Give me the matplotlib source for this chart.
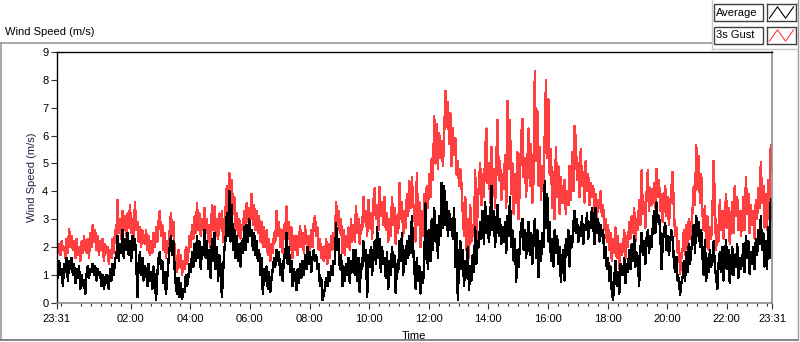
import numpy as np
import pandas as pd
import matplotlib
matplotlib.use("Agg")
import matplotlib.pyplot as plt
from matplotlib.patches import Rectangle
from matplotlib.lines import Line2D

plt.rcParams['font.family'] = ['Liberation Sans', 'DejaVu Sans']

# ---------------- data (m/s), one row per hour, 2.5-minute samples from 23:31 ----------------
gust_rows = [
    [2.3,1.8,2.1,1.7,2.2,1.9,2.0,1.6,2.3,1.8,2.65,2.0,2.4,1.9,2.2,1.6,2.3,1.7,2.0,1.5,2.2,1.8,2.4,1.9],
    [1.8,2.3,1.6,2.5,2.0,2.8,2.2,2.6,1.9,2.4,1.7,2.2,1.9,2.3,1.5,2.1,1.8,2.0,1.4,1.9,1.6,2.3,1.8,2.6],
    [2.4,3.7,2.5,3.0,2.3,3.3,2.6,3.1,2.4,3.2,2.7,3.5,2.5,3.0,2.3,3.6,2.6,2.9,2.2,2.7,2.0,2.6,2.3,2.1],
    [2.6,1.9,2.4,1.7,2.2,1.8,2.5,2.0,2.7,2.2,2.9,3.3,2.4,2.8,1.9,2.5,1.6,2.2,1.8,2.6,3.2,2.4,2.9,1.8],
    [1.6,1.1,1.9,1.3,1.7,1.0,1.5,1.2,2.0,1.4,1.8,2.4,2.0,2.8,2.3,3.1,2.5,3.56,2.6,3.2,2.4,3.0,2.6,3.4],
    [2.5,3.0,2.2,2.8,2.0,3.5,2.6,3.45,2.4,3.0,2.3,3.2,2.7,3.3,2.2,2.9,3.4,4.2,3.3,4.64,3.6,4.4,3.2,3.8],
    [2.6,3.2,2.4,3.0,2.3,2.8,2.6,3.3,2.7,3.56,2.9,3.4,3.0,3.9,2.8,3.5,2.6,3.3,2.5,3.1,2.2,2.9,2.0,2.7],
    [2.0,2.6,1.7,2.3,1.5,2.1,1.8,2.5,2.2,3.3,2.4,2.9,2.0,2.6,1.8,2.8,2.5,3.45,2.3,2.9,1.9,2.7,1.6,2.4],
    [1.9,2.4,1.7,2.2,2.75,2.0,2.5,1.8,2.75,2.1,2.4,1.7,2.2,2.6,2.0,2.9,3.1,2.4,2.7,1.9,2.3,1.6,2.0,1.5],
    [1.7,2.3,1.4,2.1,1.6,2.4,1.9,2.5,2.2,3.6,2.8,3.3,2.5,3.0,1.8,2.6,1.7,2.4,2.0,2.7,1.9,3.0,2.2,2.8],
    [2.2,3.45,2.5,3.0,2.1,2.8,2.6,3.8,2.9,3.3,2.4,3.7,2.7,3.2,2.3,3.6,4.1,3.0,3.5,2.6,4.16,3.1,3.6,2.8],
    [3.8,2.6,3.2,2.2,3.0,2.4,3.8,2.8,3.4,2.1,3.1,2.5,4.3,3.0,3.6,2.4,3.3,2.7,3.9,3.1,4.35,3.4,4.5,3.6],
    [3.2,2.2,4.64,2.8,3.6,2.0,3.3,2.4,3.9,3.0,4.2,3.4,4.6,3.8,5.2,4.4,6.7,5.0,6.4,4.8,6.1,5.2,5.8,4.9],
    [6.0,7.6,6.3,7.2,5.7,6.8,4.9,6.25,5.3,5.9,4.6,5.1,4.2,4.8,4.2,3.2,2.4,3.8,1.9,3.0,1.6,3.5,2.2,2.8],
    [2.4,4.75,1.8,3.6,4.2,5.0,3.5,4.6,3.8,5.4,6.25,4.3,5.0,3.6,5.6,4.1,4.8,3.4,5.2,6.55,4.4,5.1,3.7,4.6],
    [4.1,5.3,3.4,7.24,4.8,6.55,3.9,5.0,3.2,4.6,3.6,5.4,3.0,4.4,5.9,6.6,4.5,5.2,3.8,5.0,6.25,4.2,5.7,3.6],
    [4.4,8.3,5.1,6.9,4.2,5.6,3.7,4.9,4.1,6.0,8.0,5.2,7.3,4.6,5.5,3.4,4.7,3.0,5.6,3.8,4.9,3.2,4.5,3.6],
    [3.6,4.4,3.2,4.0,3.5,4.9,3.7,5.4,4.0,6.35,5.85,4.4,5.0,3.8,5.5,4.2,4.7,3.6,5.1,4.0,4.6,3.5,4.3,3.8],
    [4.2,3.2,3.9,3.0,3.7,3.4,4.0,3.1,3.5,2.6,3.0,2.2,2.8,1.9,2.5,1.5,2.3,1.8,2.7,1.6,2.4,1.2,2.1,1.7],
    [1.9,2.6,1.6,2.4,2.0,2.9,2.3,3.1,2.5,3.4,2.2,3.0,2.6,3.7,2.8,4.75,3.2,3.6,2.7,3.9,4.75,3.3,4.1,3.5],
    [3.6,4.3,3.4,4.8,3.8,4.4,3.3,3.9,2.9,3.6,4.2,3.1,3.8,2.8,3.5,4.1,4.7,3.3,2.4,2.7,1.8,2.2,1.05,1.6],
    [1.9,2.6,1.7,2.8,2.0,3.0,2.3,2.7,3.3,4.2,3.5,5.65,4.1,5.25,3.6,4.6,3.2,2.6,3.45,2.0,3.1,1.9,2.7,2.3],
    [3.2,5.1,3.6,1.9,2.8,2.2,3.7,2.6,3.3,2.3,3.0,3.9,2.7,3.4,2.1,2.9,3.6,2.5,4.2,3.1,3.8,2.6,3.3,2.4],
    [3.0,3.8,2.6,4.5,3.2,3.9,2.5,3.5,2.8,3.3,2.3,3.7,3.0,4.1,3.4,5.06,3.6,4.2,2.7,3.9,2.6,4.4,3.1,5.65],
]
avg_rows = [
    [1.3,0.9,1.5,1.0,1.2,0.6,1.4,1.1,1.6,0.8,1.5,1.2,1.6,1.0,1.4,0.7,1.2,0.9,1.3,0.5,1.0,0.6,0.8,0.3],
    [1.0,1.3,0.9,1.2,1.1,1.4,1.0,1.3,0.8,1.2,1.0,1.1,0.6,1.0,0.5,0.9,1.0,0.7,0.5,1.2,0.8,1.4,1.0,1.6],
    [1.6,2.4,1.5,2.1,1.8,2.6,1.6,2.3,1.9,2.5,1.7,2.2,1.5,2.4,1.9,2.3,1.6,0.2,1.4,1.8,1.0,1.6,0.8,1.3],
    [1.2,0.6,1.4,0.8,1.1,0.5,1.3,0.9,0.1,1.0,1.6,1.8,1.2,1.5,0.7,1.1,0.3,0.9,1.5,2.0,2.4,1.7,2.2,1.2],
    [0.6,0.3,0.9,0.2,0.7,0.15,0.5,0.4,1.0,0.6,0.9,1.4,1.1,1.8,1.3,2.1,1.5,2.4,1.6,2.2,1.2,2.0,1.7,2.6],
    [1.6,2.2,1.2,1.9,0.9,2.3,1.5,2.5,1.2,2.0,0.8,1.7,1.3,0.2,1.1,1.9,2.3,3.2,2.4,4.0,2.2,3.5,1.9,2.6],
    [1.6,2.4,1.5,2.1,1.3,2.2,1.8,2.7,1.9,2.8,2.2,3.0,2.4,2.6,1.9,2.5,1.7,2.2,1.5,1.9,1.0,1.6,0.3,1.2],
    [0.8,1.3,0.5,1.1,0.4,0.9,1.2,1.6,1.3,1.9,1.5,1.8,1.0,1.4,0.8,1.7,1.6,2.5,1.4,2.0,1.1,1.5,0.6,1.2],
    [1.0,0.45,1.2,0.7,1.4,0.9,1.5,1.0,1.7,1.2,2.0,1.4,1.8,1.1,1.6,1.9,1.5,1.7,1.2,1.4,0.6,0.9,0.1,0.3],
    [0.5,0.9,0.6,1.1,0.8,1.3,1.0,1.5,1.4,2.85,1.9,2.3,1.2,1.7,0.6,1.3,0.8,1.4,1.0,1.6,0.7,1.5,1.1,1.9],
    [1.0,1.9,0.8,1.6,0.4,1.4,1.2,2.2,1.5,1.9,0.2,1.7,1.3,2.0,1.0,1.8,2.2,1.4,2.7,1.6,2.3,1.1,2.0,1.4],
    [1.6,0.9,1.8,0.5,1.5,1.0,2.0,1.3,1.7,0.35,1.4,1.1,2.2,1.5,2.5,1.0,1.9,1.4,2.2,1.6,2.4,1.8,3.1,2.0],
    [1.2,0.5,1.6,0.8,1.3,0.33,1.1,0.7,1.5,3.56,2.0,1.2,2.6,1.5,3.0,1.9,3.4,2.2,2.8,1.6,3.1,2.4,4.3,2.7],
    [4.2,2.8,3.6,2.4,3.3,2.6,3.0,2.3,3.4,1.3,2.5,0.1,1.6,2.2,1.2,1.9,0.6,1.5,0.9,2.0,0.45,1.3,0.8,1.7],
    [1.1,2.7,1.4,2.2,2.0,2.9,2.3,3.3,2.1,3.6,2.5,3.1,2.2,2.8,4.2,2.6,3.3,2.0,2.9,3.5,2.4,3.0,2.1,2.7],
    [2.2,2.9,1.8,3.1,2.4,3.8,2.0,2.6,1.5,2.3,0.75,1.9,1.3,2.1,2.8,3.0,1.9,2.6,1.6,2.4,2.9,1.7,2.5,1.4],
    [2.4,3.0,1.6,2.6,0.93,2.2,1.5,2.5,2.0,4.35,2.7,3.9,2.2,2.9,1.5,2.3,1.3,2.6,1.8,2.4,1.4,2.0,0.75,1.6],
    [1.9,0.8,2.3,1.7,2.6,1.3,2.4,2.0,2.8,3.3,2.5,3.0,2.2,2.7,2.4,3.1,2.1,2.8,2.6,3.2,2.3,2.9,2.7,3.4],
    [2.9,2.1,3.4,2.5,3.0,2.2,2.8,2.4,2.6,1.6,2.0,1.2,1.6,0.8,1.3,0.4,0.1,0.9,1.5,0.6,1.1,0.33,1.4,1.0],
    [1.0,1.6,0.7,1.4,1.1,1.9,1.2,2.1,1.5,2.4,1.3,1.8,1.6,0.6,1.9,2.5,1.7,2.2,1.4,2.3,2.6,1.8,2.4,2.0],
    [2.7,3.3,2.5,3.6,2.9,3.1,2.6,1.2,2.1,2.6,2.85,1.9,2.4,1.7,2.2,2.6,2.3,1.5,1.1,1.65,0.8,0.9,0.28,0.7],
    [0.9,1.5,0.8,1.8,1.1,2.1,1.4,1.9,2.3,2.8,1.8,3.1,2.4,2.9,2.0,2.6,1.7,1.0,2.25,0.8,1.6,1.1,1.9,1.3],
    [1.6,2.2,1.3,0.9,0.5,1.4,1.8,1.1,2.0,0.8,1.5,2.25,1.2,1.9,0.7,1.4,2.0,1.0,1.7,1.3,2.1,0.9,1.6,1.2],
    [1.5,2.1,1.1,2.4,1.6,2.2,1.05,1.8,1.4,2.0,1.2,2.3,1.7,2.6,2.1,3.1,1.9,2.5,1.3,2.2,1.2,2.7,1.6,3.7],
]
start_time = "2020-01-01 23:31"
sample_step = "150s"
x_tick_labels = ["23:31", "02:00", "04:00", "06:00", "08:00", "10:00", "12:00",
                 "14:00", "16:00", "18:00", "20:00", "22:00", "23:31"]
y_ticks = [0, 1, 2, 3, 4, 5, 6, 7, 8, 9]
series_names = ["Average", "3s Gust"]
legend_icon = [0, 1, 0, 1]

gust = np.concatenate([np.array(r, float) for r in gust_rows])
avg = np.concatenate([np.array(r, float) for r in avg_rows])
times = pd.date_range(start_time, periods=len(gust), freq=sample_step)
t0 = pd.Timestamp(start_time)
t1 = t0 + pd.Timedelta(hours=24)

W, H = 800, 342
fig = plt.figure(figsize=(W / 100, H / 100), dpi=100)
fig.patch.set_facecolor("white")

L, R, B, T = 56.7, 772.0, 302.7, 52.0
ax = fig.add_axes([L / W, 1 - B / H, (R - L) / W, (B - T) / H])

RED = "#ff3f3f"
ax.plot(times, gust, color=RED, lw=1.0, antialiased=False)
ax.plot(times, avg, color="black", lw=1.0, antialiased=False)

ax.set_xlim(t0, t1)
ax.set_ylim(0, 9)
ax.set_yticks(y_ticks)
ax.set_yticklabels([str(v) for v in y_ticks])

major = [t0] + [pd.Timestamp("2020-01-02 %02d:00" % h) for h in range(2, 24, 2)] + [t1]
ax.set_xticks(major)
ax.set_xticklabels(x_tick_labels)
minor = [m for m in pd.date_range("2020-01-01 23:40", t1, freq="20min")
         if m.minute != 0 or m.hour % 2 == 1]
ax.set_xticks(minor, minor=True)

ax.tick_params(axis="both", which="major", direction="out", length=4, width=0.8,
               labelsize=8, colors="#333333", labelcolor="black")
ax.tick_params(axis="x", which="major", pad=4)
ax.tick_params(axis="y", which="major", pad=2)
ax.tick_params(axis="x", which="minor", direction="out", length=2.5, width=0.8,
               colors="#333333")
ax.tick_params(axis="y", which="minor", left=False)

for s in ["left", "top"]:
    ax.spines[s].set_color("black")
    ax.spines[s].set_linewidth(1.0)
for s in ["right", "bottom"]:
    ax.spines[s].set_color("#8c8c8c")
    ax.spines[s].set_linewidth(1.2)

ax.set_ylabel("Wind Speed (m/s)", fontsize=8, color="#1b2345", labelpad=4)
ax.set_xlabel("Time", fontsize=8, color="black", labelpad=5)

# outer frame and title
def fx(px):
    return px / W

def fy(py):
    return 1 - py / H

frame_col = "#9a9a9a"
fig.add_artist(Line2D([fx(0), fx(712)], [fy(42.5), fy(42.5)], color=frame_col, lw=1.2))
fig.add_artist(Line2D([fx(1), fx(1)], [fy(42.5), fy(340)], color=frame_col, lw=1.2))
fig.add_artist(Line2D([fx(1), fx(798)], [fy(340), fy(340)], color="#707070", lw=1.2))
fig.add_artist(Line2D([fx(798), fx(798)], [fy(0), fy(340)], color=frame_col, lw=1.0))
fig.add_artist(Line2D([fx(712), fx(798)], [fy(49), fy(49)], color="#c8c8c8", lw=1.0))
fig.add_artist(Line2D([fx(712), fx(712)], [fy(0), fy(49)], color="#c8c8c8", lw=1.0))

fig.text(fx(5), fy(32), "Wind Speed (m/s)", fontsize=8, ha="left", va="center", color="black")

# legend
colors = ["black", RED]
rows_y = [(4, 21), (27, 44)]
for name, col, (ya, yb) in zip(series_names, colors, rows_y):
    fig.add_artist(Rectangle((fx(714), fy(yb)), fx(763) - fx(714), fy(ya) - fy(yb),
                             transform=fig.transFigure, fill=True, facecolor="white",
                             edgecolor="#404040", lw=1.0))
    fig.text(fx(716), fy((ya + yb) / 2), name, fontsize=8, ha="left", va="center")
    iax = fig.add_axes([fx(767), fy(yb), fx(796) - fx(767), fy(ya) - fy(yb)])
    iax.plot(range(len(legend_icon)), legend_icon, color=col, lw=0.8)
    iax.set_xlim(-0.3, len(legend_icon) - 0.7)
    iax.set_ylim(-0.25, 1.25)
    iax.set_xticks([])
    iax.set_yticks([])
    for s in iax.spines.values():
        s.set_color("#404040")
        s.set_linewidth(1.0)

fig.savefig("out.png", dpi=100, facecolor="white")
